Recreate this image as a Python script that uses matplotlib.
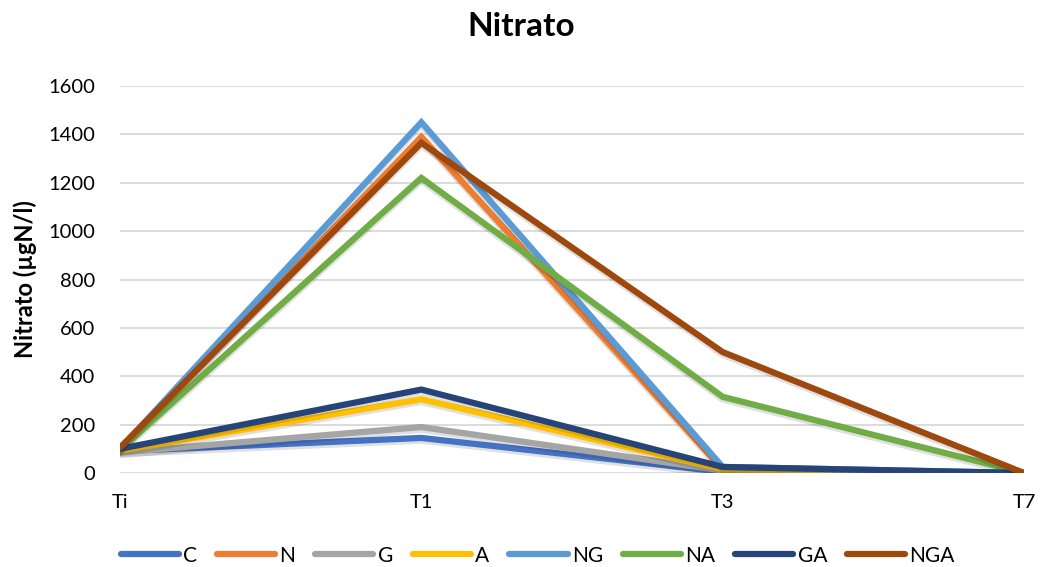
import matplotlib
matplotlib.use("Agg")
import matplotlib.pyplot as plt
import matplotlib.patheffects as pe

plt.rcParams['font.family'] = ['Lato', 'DejaVu Sans']

categories = ["Ti", "T1", "T3", "T7"]
series_names = ["C", "N", "G", "A", "NG", "NA", "GA", "NGA"]
C = [90, 145, 5, 0]
N = [95, 1390, 15, 0]
G = [85, 190, 10, 0]
A = [92, 305, 15, 0]
NG = [100, 1450, 25, 0]
NA = [95, 1220, 315, 0]
GA = [100, 345, 25, 0]
NGA = [105, 1365, 500, 0]
values = [C, N, G, A, NG, NA, GA, NGA]
colors = ["#4472C4", "#ED7D31", "#A5A5A5", "#FFC000",
          "#5B9BD5", "#70AD47", "#264478", "#9E480E"]

fig = plt.figure(figsize=(10.42, 5.67), dpi=100)
ax = fig.add_axes([0.1152, 0.1658, 0.8675, 0.6825])

x = list(range(len(categories)))
shadow = [pe.SimpleLineShadow(offset=(0, -2), shadow_color='black', alpha=0.12), pe.Normal()]
for name, vals, col in zip(series_names, values, colors):
    ax.plot(x, vals, color=col, lw=4.5, label=name, solid_joinstyle='miter',
            solid_capstyle='round', path_effects=shadow, zorder=3)

ax.set_xlim(0, len(categories) - 1)
ax.set_ylim(0, 1600)
ax.set_yticks(range(0, 1601, 200))
ax.set_xticks(x)
ax.set_xticklabels(categories)
ax.yaxis.grid(True, color='#D9D9D9', lw=1.3)
ax.set_axisbelow(True)
for s in ax.spines.values():
    s.set_visible(False)
ax.tick_params(length=0, labelsize=14.5, colors='#000000')
ax.tick_params(axis='x', pad=15)
ax.tick_params(axis='y', pad=18)

ax.set_ylabel("Nitrato (µgN/l)", fontsize=17, fontweight='bold', labelpad=8)
fig.suptitle("Nitrato", fontsize=24, fontweight='bold', y=0.978)

leg = fig.legend(loc='center', bbox_to_anchor=(0.516, 0.02), ncol=8, frameon=False,
                 fontsize=15, handlelength=2.8, columnspacing=0.95, handletextpad=0.2)
for h in leg.get_lines():
    h.set_linewidth(4.5)
    h.set_path_effects([])

fig.savefig("out.png", dpi=100)
